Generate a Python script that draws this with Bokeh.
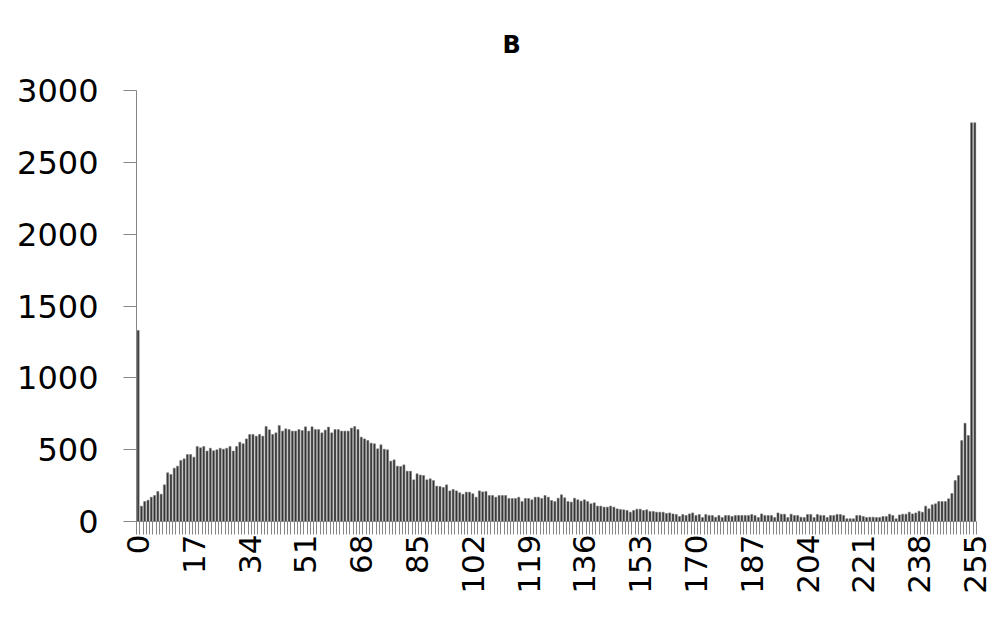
from bokeh.plotting import figure
from bokeh.models import Range1d, FixedTicker, ColumnDataSource
from bokeh.embed import file_html
from bokeh.resources import INLINE
import math

title_text = "B"
levels = list(range(256))
counts = [
    1330, 107, 139, 148, 169, 181, 209, 190, 255, 339, 327, 371, 385, 425, 436, 466,
    466, 448, 522, 513, 522, 490, 510, 492, 499, 510, 503, 510, 522, 490, 522, 552,
    541, 575, 606, 606, 594, 606, 594, 661, 638, 606, 617, 668, 629, 645, 640, 629,
    629, 640, 633, 659, 629, 659, 640, 640, 617, 636, 657, 617, 640, 640, 629, 629,
    629, 650, 661, 640, 587, 575, 564, 545, 541, 506, 534, 503, 499, 420, 429, 385,
    383, 394, 350, 350, 290, 332, 323, 320, 290, 297, 285, 246, 244, 237, 255, 213,
    223, 213, 200, 190, 204, 204, 193, 169, 213, 206, 209, 181, 181, 169, 181, 181,
    181, 160, 160, 160, 169, 139, 160, 160, 151, 169, 169, 160, 181, 169, 146, 139,
    162, 186, 165, 139, 135, 162, 151, 142, 151, 139, 123, 130, 107, 107, 100, 100,
    107, 100, 88, 84, 81, 77, 65, 77, 86, 86, 77, 81, 70, 70, 65, 65,
    65, 56, 60, 53, 49, 35, 49, 42, 53, 60, 42, 49, 28, 49, 42, 42,
    30, 42, 28, 42, 42, 35, 42, 42, 42, 42, 42, 49, 42, 28, 53, 42,
    42, 42, 28, 60, 51, 51, 28, 51, 42, 42, 30, 28, 49, 49, 28, 49,
    42, 42, 28, 42, 42, 49, 49, 42, 19, 19, 19, 42, 42, 35, 28, 30,
    30, 28, 28, 35, 35, 51, 42, 19, 46, 51, 51, 65, 53, 60, 72, 65,
    107, 88, 116, 123, 139, 139, 139, 158, 195, 285, 320, 563, 684, 598, 2775, 2775,
]
x_tick_values = list(range(0, 256, 17))
y_tick_values = [0, 500, 1000, 1500, 2000, 2500, 3000]

src = ColumnDataSource(dict(x=levels, top=counts))

font = "DejaVu Sans"

p = figure(width=992, height=617, output_backend="svg", toolbar_location=None,
           x_range=Range1d(-0.5, 255.5), y_range=Range1d(0, 3000),
           min_border_left=136, min_border_right=16, min_border_top=90,
           min_border_bottom=96, title=title_text)
p.outline_line_color = None
p.xgrid.visible = False
p.ygrid.visible = False
p.background_fill_color = "white"

p.title.align = "left"
p.title.vertical_align = "top"
p.title.offset = 366
p.title.standoff = 60
p.title.text_font = font
p.title.text_font_style = "bold"
p.title.text_font_size = "24px"
p.title.text_color = "black"

p.vbar(x="x", top="top", bottom=0, width=0.62, source=src,
       fill_color="#333333", line_color="#7a7a7a", line_width=0.6)

axis_grey = "#868686"

xa = p.xaxis[0]
xa.ticker = FixedTicker(ticks=x_tick_values,
                        minor_ticks=[i - 0.5 for i in range(257)])
xa.axis_line_color = axis_grey
xa.major_tick_line_color = None
xa.major_tick_out = 6
xa.major_tick_in = 0
xa.minor_tick_line_color = axis_grey
xa.minor_tick_out = 13
xa.minor_tick_in = 0
xa.major_label_orientation = math.pi / 2
xa.major_label_standoff = 0
xa.major_label_text_font = font
xa.major_label_text_font_size = "31px"
xa.major_label_text_color = "black"

ya = p.yaxis[0]
ya.ticker = FixedTicker(ticks=y_tick_values, minor_ticks=[])
ya.axis_line_color = axis_grey
ya.major_tick_line_color = axis_grey
ya.major_tick_out = 13
ya.major_tick_in = 0
ya.minor_tick_line_color = None
ya.major_label_standoff = 25
ya.major_label_text_font = font
ya.major_label_text_font_size = "32px"
ya.major_label_text_color = "black"

open("out.html", "w").write(file_html(p, INLINE))
